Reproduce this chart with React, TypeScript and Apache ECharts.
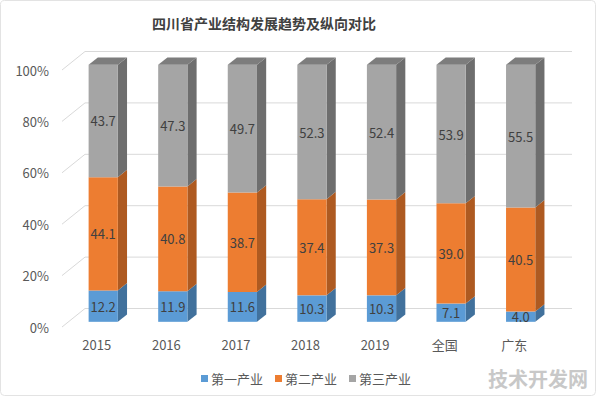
import React, { useEffect, useRef } from "react";
import * as echarts from "echarts";

const categories = ["2015", "2016", "2017", "2018", "2019", "全国", "广东"];
const primary = [12.2, 11.9, 11.6, 10.3, 10.3, 7.1, 4.0];
const secondary = [44.1, 40.8, 38.7, 37.4, 37.3, 39.0, 40.5];
const tertiary = [43.7, 47.3, 49.7, 52.3, 52.4, 53.9, 55.5];
const seriesNames = ["第一产业", "第二产业", "第三产业"];
const yTicks = [0, 20, 40, 60, 80, 100];

const DX = 23;
const DY = -18.5;
const FRONT = 0.28;
const SIDE = 0.4;
const FONT = "'Noto Sans CJK SC', 'Noto Sans', sans-serif";

const faceColors = [
  { front: "#5B9BD5", side: "#41719C", top: "#4A83B8" },
  { front: "#ED7D31", side: "#AE5A21", top: "#C9682A" },
  { front: "#A5A5A5", side: "#6E6E6E", top: "#7D7D7D" },
];

export default function App() {
  const ref = useRef<HTMLDivElement>(null);
  useEffect(() => {
    if (!ref.current) return;
    const chart = echarts.init(ref.current, undefined, { renderer: "svg" });
    const values = [primary, secondary, tertiary];

    const barSeries = values.map((arr, k) => {
      const data = arr.map((v, i) => {
        let base = 0;
        for (let j = 0; j < k; j++) base += values[j][i];
        return [i, base, v];
      });
      const isTop = k === values.length - 1;
      const c = faceColors[k];
      return {
        type: "custom",
        name: seriesNames[k],
        itemStyle: { color: c.front },
        z: 3,
        encode: { x: 0, y: 2 },
        data,
        renderItem: (params: any, api: any) => {
          const i = api.value(0);
          const base = api.value(1);
          const v = api.value(2);
          const p0 = api.coord([i, base]);
          const p1 = api.coord([i, base + v]);
          const bw = api.size([1, 0])[0] * 0.42;
          const fx = FRONT * DX;
          const fy = FRONT * DY;
          const sx = SIDE * DX;
          const sy = SIDE * DY;
          const x0 = p0[0] + fx - bw / 2;
          const x1 = x0 + bw;
          const yb = p0[1] + fy;
          const yt = p1[1] + fy;
          const children: any[] = [
            {
              type: "polygon",
              shape: { points: [[x1, yt], [x1 + sx, yt + sy], [x1 + sx, yb + sy], [x1, yb]] },
              style: { fill: c.side },
            },
            {
              type: "polygon",
              shape: { points: [[x0, yt], [x1, yt], [x1, yb], [x0, yb]] },
              style: { fill: c.front },
            },
          ];
          if (isTop) {
            children.push({
              type: "polygon",
              shape: { points: [[x0, yt], [x1, yt], [x1 + sx, yt + sy], [x0 + sx, yt + sy]] },
              style: { fill: c.top },
            });
          }
          children.push({
            type: "text",
            style: {
              text: v.toFixed(1),
              x: (x0 + x1) / 2,
              y: (yt + yb) / 2,
              align: "center",
              verticalAlign: "middle",
              fill: "#404040",
              fontSize: 13,
              fontFamily: FONT,
            },
          });
          return { type: "group", children };
        },
      };
    });

    const gridSeries = {
      type: "custom",
      name: "grid",
      silent: true,
      z: 1,
      encode: { x: 0, y: 1 },
      data: yTicks.map((t) => [0, t]),
      renderItem: (params: any, api: any) => {
        const cs = params.coordSys;
        const y = api.coord([0, api.value(1)])[1];
        return {
          type: "polyline",
          shape: {
            points: [
              [cs.x, y],
              [cs.x + DX, y + DY],
              [cs.x + cs.width + DX, y + DY],
            ],
          },
          style: { stroke: "#D9D9D9", lineWidth: 1, fill: "none" },
        };
      },
    };

    chart.setOption({
      animation: false,
      backgroundColor: "#ffffff",
      title: {
        text: "四川省产业结构发展趋势及纵向对比",
        left: 152,
        top: 16,
        padding: 0,
        textStyle: { fontSize: 14, fontWeight: "bold", color: "#404040", fontFamily: FONT },
      },
      legend: {
        data: seriesNames,
        left: 196,
        top: 367,
        itemWidth: 7,
        itemHeight: 7,
        itemGap: 12,
        icon: "rect",
        textStyle: { fontSize: 13, color: "#595959", fontFamily: FONT, padding: [0, 0, 0, -2] },
      },
      grid: { left: 62, right: 47, top: 70, bottom: 69 },
      xAxis: {
        type: "category",
        data: categories,
        axisLine: { show: false },
        axisTick: { show: false },
        axisLabel: { color: "#595959", fontSize: 13, margin: 11, fontFamily: FONT },
      },
      yAxis: {
        type: "value",
        min: 0,
        max: 100,
        interval: 20,
        axisLine: { show: false },
        axisTick: { show: false },
        splitLine: { show: false },
        axisLabel: { color: "#595959", fontSize: 13, margin: 13, formatter: "{value}%", fontFamily: FONT },
      },
      graphic: [
        {
          type: "rect",
          shape: { x: 0.5, y: 0.5, width: 595, height: 395, r: 4 },
          style: { fill: "none", stroke: "#E3E3E3", lineWidth: 1 },
          z: 0,
        },
        {
          type: "text",
          x: 538,
          y: 378,
          style: {
            text: "技术开发网",
            align: "center",
            verticalAlign: "middle",
            fontSize: 20,
            fontWeight: "bold",
            fill: "#C8C8C8",
            fontFamily: FONT,
          },
          z: 10,
        },
      ],
      series: [gridSeries, ...barSeries],
    });
    return () => chart.dispose();
  }, []);
  return (
    <div
      ref={ref}
      style={{ position: "absolute", left: 0, top: 0, width: 596, height: 396 }}
    />
  );
}
